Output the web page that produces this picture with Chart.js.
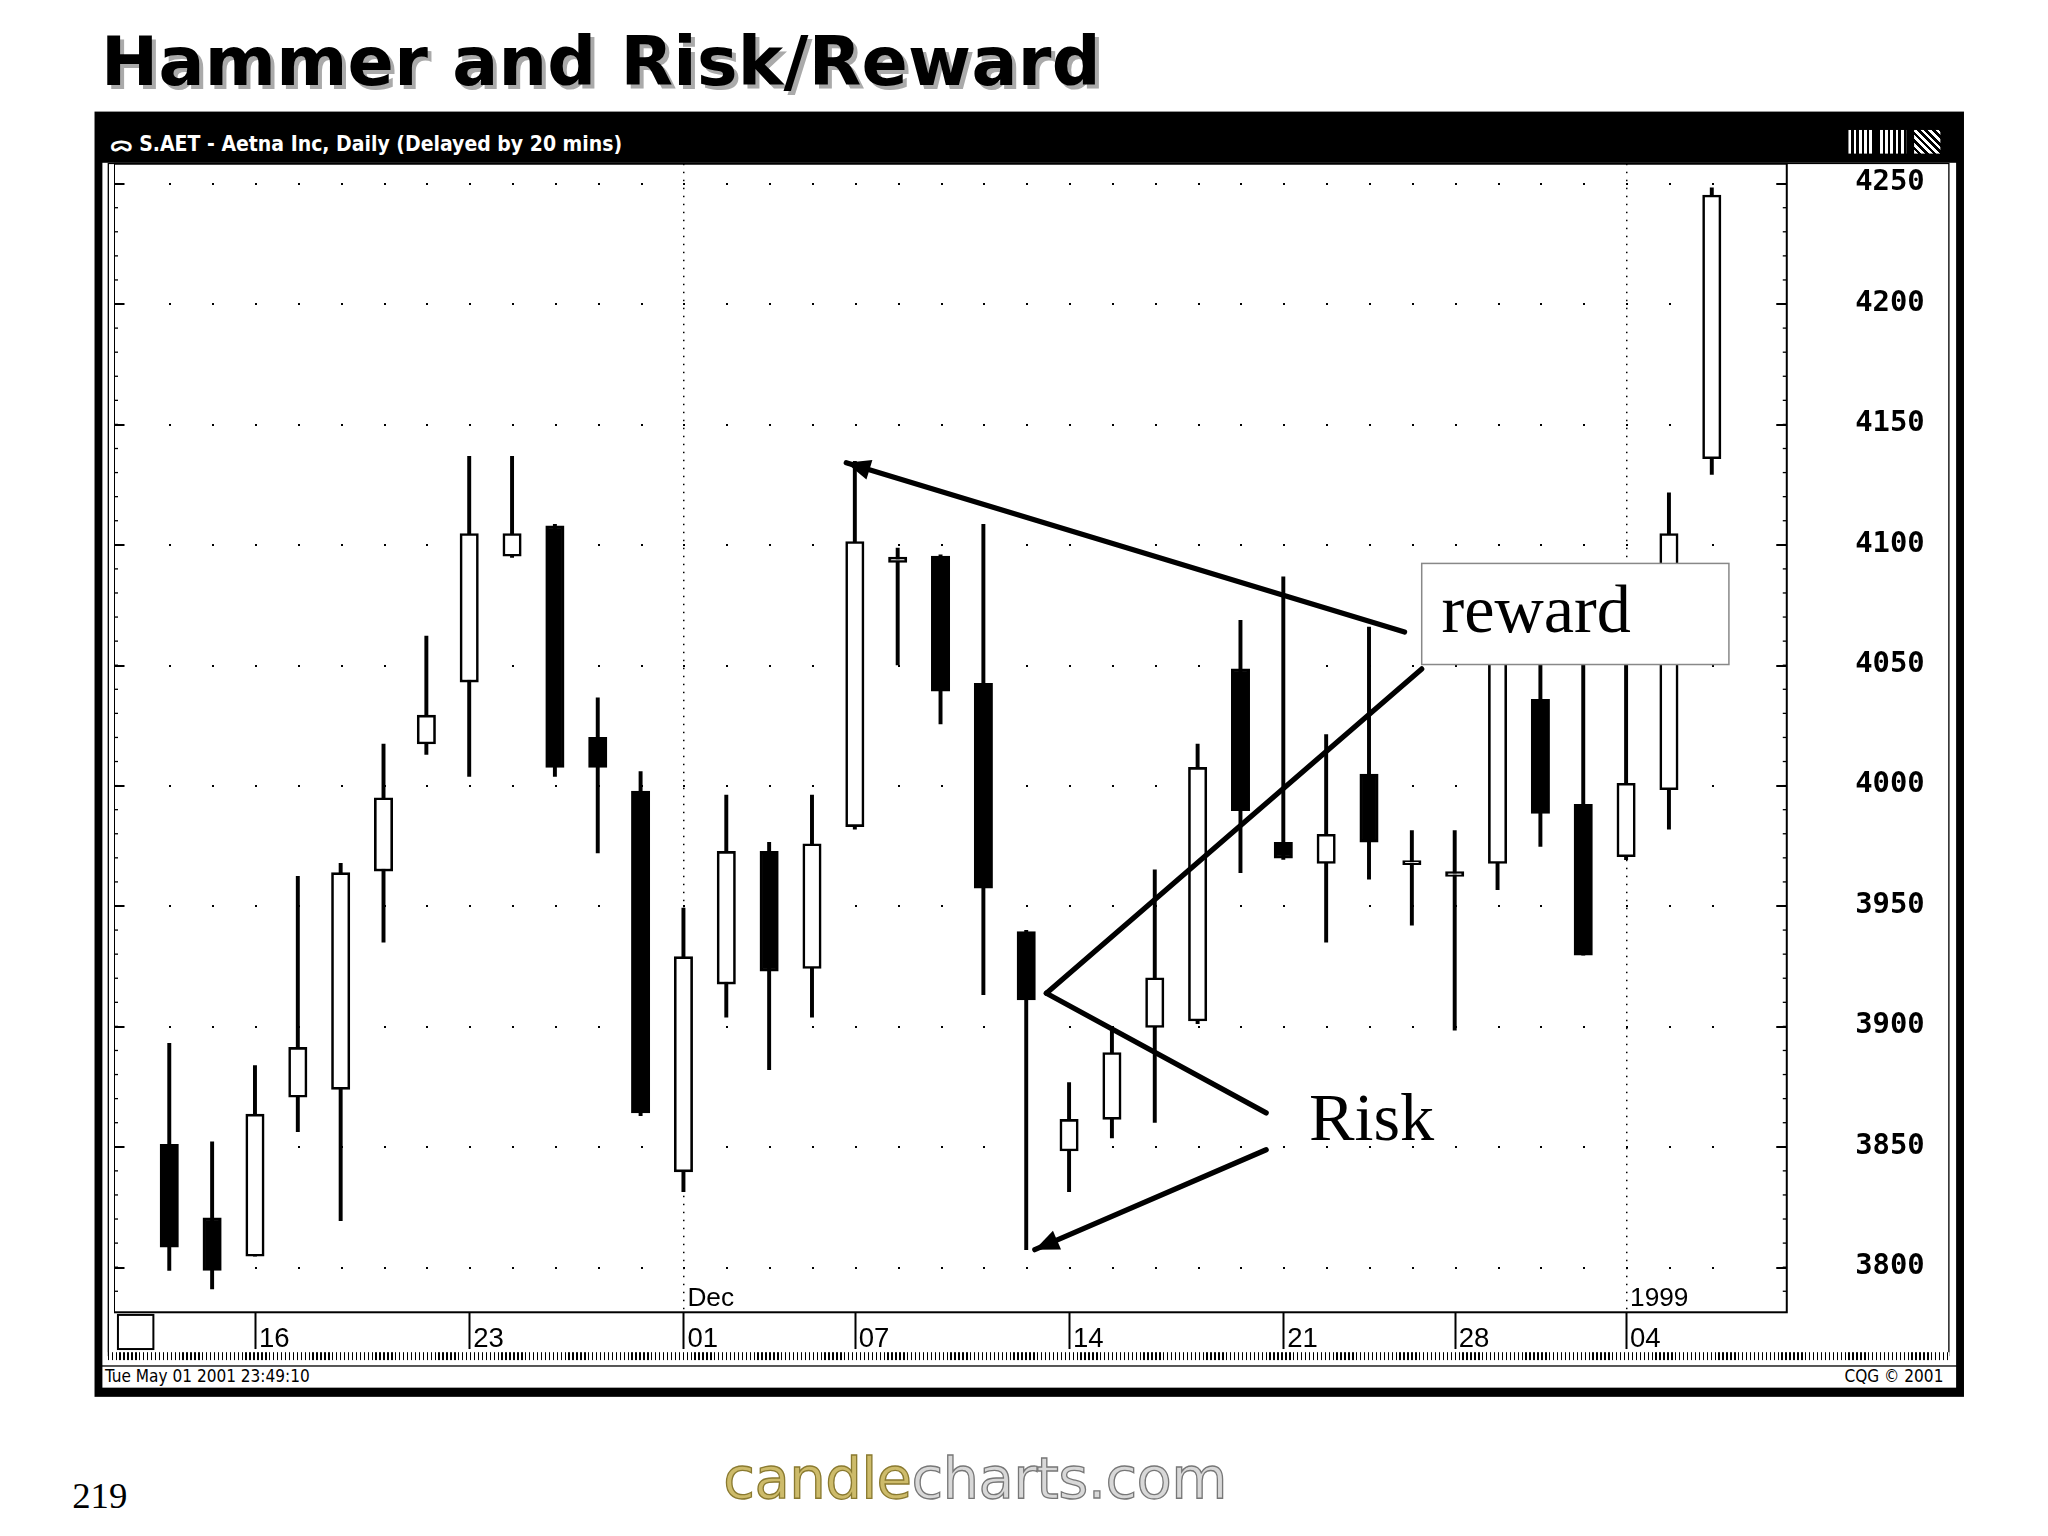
<!DOCTYPE html>
<html><head><meta charset="utf-8">
<script src="https://cdn.jsdelivr.net/npm/chart.js@4.4.1/dist/chart.umd.min.js"></script>
<style>
html,body{margin:0;padding:0;background:#fff;width:2048px;height:1536px;overflow:hidden}
#page{position:absolute;left:0;top:0;width:1560px;height:1170px;transform:scale(1.312821);transform-origin:0 0;font-family:"DejaVu Sans",sans-serif}
.abs{position:absolute}
#c{position:absolute}
</style></head><body>
<div id="page">
  <div class="abs" style="left:77px;top:17px;font:bold 52px 'DejaVu Sans';color:#000;text-shadow:3px 3px 0 #aaa;letter-spacing:0.2px">Hammer and Risk/Reward</div>
  <div class="abs" style="left:72px;top:85px;width:1424px;height:979px;background:#000"></div>
  <div class="abs" style="left:78px;top:124px;width:1412px;height:916px;background:#fff"></div>
  <div class="abs" style="left:78px;top:1041px;width:1412px;height:16px;background:#fff"></div>
  <div class="abs" style="left:84px;top:98px;color:#fff;font:bold 16px 'DejaVu Sans Condensed','DejaVu Sans';">ᯅ S.AET - Aetna Inc, Daily (Delayed by 20 mins)</div>
  <div class="abs" style="left:1408px;top:99px;width:20px;height:18px;background:repeating-linear-gradient(90deg,#fff 0 2px,#000 2px 4px)"></div>
  <div class="abs" style="left:1432px;top:99px;width:20px;height:18px;background:repeating-linear-gradient(90deg,#fff 0 2px,#000 2px 4px)"></div>
  <div class="abs" style="left:1458px;top:99px;width:20px;height:18px;background:repeating-linear-gradient(45deg,#fff 0 2px,#000 2px 4px)"></div>
  <div class="abs" style="left:82px;top:124px;width:1403px;height:909px;border:1px solid #000;box-sizing:border-box"></div>
  <div class="abs" style="left:82px;top:1030px;width:1403px;height:6px;background:repeating-linear-gradient(90deg,#000 0 1px,#fff 1px 3px)"></div>
  <div class="abs" style="left:80px;top:1041px;font:13px 'DejaVu Sans Condensed';color:#000">Tue May 01 2001 23:49:10</div>
  <div class="abs" style="left:1405px;top:1041px;font:13px 'DejaVu Sans Condensed';color:#000">CQG © 2001</div>
  <div class="abs" style="left:55px;top:1124px;font:28px 'Liberation Serif';color:#000">219</div>
  <div class="abs" style="left:551px;top:1100px;font:44px 'DejaVu Sans';letter-spacing:-0.5px"><span style="color:#cdbb6a;-webkit-text-stroke:1px #8a7a30">candle</span><span style="color:#d8d8d8;-webkit-text-stroke:1px #777">charts.com</span></div>
</div>
<canvas id="c"></canvas>
<script>
const dateLabels = {2:"16",7:"23",12:"01",16:"07",21:"14",26:"21",30:"28",34:"04"};
const opens  = [3850.7,3820.2,3804.3,3870.3,3873.6,3964.2,4017,4042.7,4095,4107.6,4019.8,3997.5,3839.3,3917.3,3972.4,3923.8,3982.7,4092.4,4095,4042.2,3939.1,3848,3861.1,3899.3,3902,4048.2,3976.2,3967.4,4004.5,3966.9,3962,3967.4,4035.6,3992,3970.2,3998,4135.5];
const highs  = [3892.7,3851.8,3883.5,3962,3967.4,4017,4061.8,4136.5,4136.5,4108.2,4036.2,4005.6,3948.9,3995.8,3976.2,3995.8,4134.4,4098.4,4095.6,4108.2,3939.6,3876.4,3898.2,3964.7,4017,4068.4,4086.4,4020.9,4065.6,3981.1,3981.1,4070,4058,4055,4052,4121.3,4248];
const lows   = [3798.4,3790.7,3804.3,3856,3819,3934.7,4012.7,4003.5,4094.5,4003.5,3971.8,3862.7,3831.1,3903.6,3881.8,3903.6,3981.6,4049.8,4025.3,3912.9,3807,3831.1,3853.4,3859.9,3900.9,3963.6,3969.1,3934.7,3960.9,3941.8,3898.2,3956.5,3974.5,3929.3,3969,3981.6,4129];
const closes = [3808,3798.4,3863.3,3891,3963.6,3994.7,4029,4104.4,4104.4,4007.3,4007.3,3863.8,3928.7,3972.4,3922.7,3975.6,4101.1,4094.6,4038.9,3957.1,3910.7,3861.1,3888.9,3919.9,4007.3,3989.3,3969.6,3979.5,3976.2,3966.9,3964,4058,3988.2,3929.3,4000.7,4104.4,4245];
const yTicks = [3800,3850,3900,3950,4000,4050,4100,4150,4200,4250];
const rewardArrow = [[28.83,4063.5],[15.8,4133.8]];
const rewardLine  = [[20.47,3913.5],[29.23,4048.2]];
const riskLine    = [[20.47,3913.5],[25.6,3863.8]];
const riskArrow   = [[25.6,3848.5],[20.2,3807]];

const S = 2048/1560;
const cv = document.getElementById('c');
const T0 = 125*S, CW = Math.round(1393*S), CH = Math.round(903*S), AX = 28*S;
let cTop = T0, cH = CH;
function place(){cv.style.left=(87*S)+'px';cv.style.top=cTop+'px';}
place();
cv.width = CW; cv.height = CH; cv.style.width = CW+'px'; cv.style.height = CH+'px';

const wick = highs.map((hh,i)=>({x:i,y:[lows[i],hh]}));
const body = opens.map((o,i)=>({x:i,y:[Math.min(o,closes[i]),Math.max(o,closes[i])]}));
const bodyFill = opens.map((o,i)=> closes[i]<o ? '#000' : '#fff');

function arrowHead(ctx,x1,y1,x2,y2,s){
  const a=Math.atan2(y2-y1,x2-x1);
  ctx.beginPath();ctx.moveTo(x2,y2);
  ctx.lineTo(x2-s*Math.cos(a-0.4),y2-s*Math.sin(a-0.4));
  ctx.lineTo(x2-s*Math.cos(a+0.4),y2-s*Math.sin(a+0.4));
  ctx.closePath();ctx.fill();
}
const deco = {
  id:'deco',
  beforeDatasetsDraw(chart){
    const {ctx,chartArea:ca,scales:{x,y}}=chart;
    ctx.save();ctx.fillStyle='#000';
    for(const t of yTicks){const py=Math.round(y.getPixelForValue(t));
      for(let i=0;i<37;i++){const px=Math.round(x.getPixelForValue(i));ctx.fillRect(px,py,2,2);}
      ctx.fillRect(ca.left,py,8*S,2); ctx.fillRect(ca.right-8*S,py,8*S,2);
    }
    for(const k of [12,34]){const px=Math.round(x.getPixelForValue(k));
      for(let py=ca.top;py<ca.bottom;py+=8) ctx.fillRect(px,py,1.5,1.5);}
    for(let v=3790;v<=4250;v+=10){const py=y.getPixelForValue(v);ctx.fillRect(ca.left,py,4,1.3);ctx.fillRect(ca.right-4,py,4,1.3);}
    ctx.restore();
  },
  afterDraw(chart){
    const {ctx,chartArea:ca,scales:{x,y}}=chart;
    const P=p=>[x.getPixelForValue(p[0]),y.getPixelForValue(p[1])];
    ctx.save();
    ctx.strokeStyle='#000';ctx.lineWidth=2;
    ctx.strokeRect(ca.left,ca.top,ca.right-ca.left,ca.bottom-ca.top);
    ctx.strokeRect(ca.left+3*S,ca.bottom+2*S,27*S,26*S);
    for(const k in dateLabels){const px=Math.round(x.getPixelForValue(+k))+0.5;
      ctx.beginPath();ctx.moveTo(px,ca.bottom);ctx.lineTo(px,ca.bottom+28*S);ctx.stroke();}
    ctx.fillStyle='#000';ctx.font=(20*S)+'px "Liberation Sans"';ctx.textBaseline='bottom';
    ctx.fillText('Dec',x.getPixelForValue(12)+3*S,ca.bottom);
    ctx.fillText('1999',x.getPixelForValue(34)+3*S,ca.bottom);
    ctx.lineWidth=4*S;ctx.lineCap='round';
    for(const seg of [rewardArrow,rewardLine,riskLine,riskArrow]){
      const a=P(seg[0]),b=P(seg[1]);
      ctx.beginPath();ctx.moveTo(a[0],a[1]);ctx.lineTo(b[0],b[1]);ctx.stroke();
    }
    for(const seg of [rewardArrow,riskArrow]){const a=P(seg[0]),b=P(seg[1]);arrowHead(ctx,a[0],a[1],b[0],b[1],20*S);}
    const bx=x.getPixelForValue(29.23), by=y.getPixelForValue(4092);
    const bw=234*S, bh=77*S;
    ctx.fillStyle='#fff';ctx.fillRect(bx,by,bw,bh);
    ctx.strokeStyle='#888';ctx.lineWidth=1.5;ctx.strokeRect(bx,by,bw,bh);
    ctx.fillStyle='#000';ctx.font=(52*S)+'px "Liberation Serif"';ctx.textBaseline='middle';
    ctx.fillText('reward',bx+15*S,by+bh/2);
    ctx.fillText('Risk',x.getPixelForValue(26.6),y.getPixelForValue(3860));
    ctx.restore();
  }
};

const chart = new Chart(cv,{
  type:'bar',
  data:{datasets:[
    {data:wick,backgroundColor:'#000',borderWidth:0,barThickness:2.5*S,grouped:false,order:2},
    {data:body,backgroundColor:bodyFill,borderColor:'#000',borderWidth:2*S,borderSkipped:false,barThickness:14*S,minBarLength:4,grouped:false,order:1}
  ]},
  options:{
    responsive:false,maintainAspectRatio:false,animation:false,devicePixelRatio:1,
    layout:{padding:0},
    plugins:{legend:{display:false},tooltip:{enabled:false}},
    scales:{
      x:{type:'linear',min:-1.29,max:37.75,offset:false,
        grid:{display:false},border:{display:false},
        afterBuildTicks:s=>{s.ticks=Object.keys(dateLabels).map(k=>({value:+k}));},
        afterFit:s=>{s.height=AX;},
        ticks:{autoSkip:false,maxRotation:0,align:'start',labelOffset:3*S,padding:2*S,color:'#000',
          font:{family:'Liberation Sans',size:21*S},callback:v=>dateLabels[v]||''}},
      y:{position:'right',min:3781,max:4258,
        grid:{display:false},border:{display:false},
        afterBuildTicks:s=>{s.ticks=yTicks.map(v=>({value:v}));},
        afterFit:s=>{s.width=119*S;},
        ticks:{color:'#000',padding:46*S,font:{family:'DejaVu Sans Mono',size:22*S,weight:'bold'},callback:v=>String(v)}}
    }
  },
  plugins:[deco]
});
for(let k=0;k<4;k++){
  const ca = chart.chartArea;
  const curTop = cTop + ca.top, curBot = cTop + ca.bottom;
  const wantTop = T0, wantBot = T0 + CH - AX;
  const dTop = curTop - wantTop, dBot = wantBot - curBot;
  if(Math.abs(dTop)<0.5 && Math.abs(dBot)<0.5) break;
  cTop -= dTop; cH += dTop + dBot;
  place();
  chart.resize(CW, Math.round(cH));
}
</script>
</body></html>
